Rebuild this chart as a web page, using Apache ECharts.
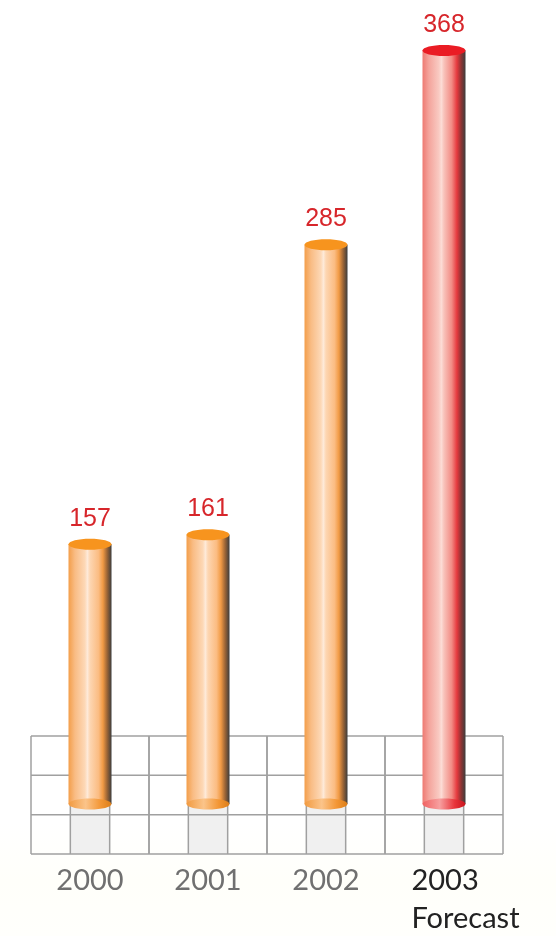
<!DOCTYPE html>
<html>
<head>
<meta charset="utf-8">
<script src="https://cdn.jsdelivr.net/npm/echarts@6/dist/echarts.min.js"></script>
<style>
html, body { margin: 0; padding: 0; background: #fff; }
#e { width: 556px; height: 936px; }
</style>
</head>
<body>
<div id="e"></div>
<script>
const years = ['2000', '2001', '2002', '2003']
const values = [157, 161, 285, 368]
const forecast = [false, false, false, true]
const yMin = 46
const yMax = 381

const myChart = echarts.init(document.getElementById('e'))

function hGrad(stops) {
  return new echarts.graphic.LinearGradient(0, 0, 1, 0, stops.map(c => ({ offset: c[0], color: c[1] })))
}

const bodyOrange = hGrad([[0, '#f39e4a'], [0.15, '#f9bc84'], [0.38, '#fdd8b6'], [0.44, '#feead9'], [0.5, '#fdd6b2'], [0.7, '#fbbc82'], [0.8, '#f19a44'], [0.9, '#9a6436'], [1, '#3c3c3c']])
const bodyRed = hGrad([[0, '#ee7a72'], [0.15, '#f4a49c'], [0.38, '#f9cac2'], [0.44, '#fcdcd6'], [0.5, '#f8c2ba'], [0.68, '#f28b84'], [0.8, '#e63a3e'], [0.9, '#8c3434'], [1, '#3c3c3c']])
const baseOrange = hGrad([[0, '#f19a40'], [0.4, '#fbc48a'], [0.75, '#f39634'], [1, '#dc7e18']])
const baseRed = hGrad([[0, '#f06262'], [0.4, '#f7a0a0'], [0.75, '#e8343a'], [1, '#c8141c']])

function renderFloor(params, api) {
  const p = api.coord([api.value(0), yMin])
  const band = api.size([1, 0])[0]
  const cell = band / 3
  const left = p[0] - band / 2
  const topY = p[1] - 68
  const bottomY = topY + cell * 3
  const children = [{
    type: 'rect',
    shape: { x: left + cell, y: p[1], width: cell, height: bottomY - p[1] },
    style: { fill: '#f0f0f0' }
  }]
  for (let i = 0; i <= 3; i++) {
    children.push({
      type: 'line',
      shape: { x1: left + i * cell, y1: topY, x2: left + i * cell, y2: bottomY },
      style: { stroke: '#a0a0a0', lineWidth: 1.5 }
    })
    children.push({
      type: 'line',
      shape: { x1: left, y1: topY + i * cell, x2: left + band, y2: topY + i * cell },
      style: { stroke: '#a0a0a0', lineWidth: 1.5 }
    })
  }
  return { type: 'group', children: children }
}

function renderCylinder(params, api) {
  const idx = api.value(0)
  const top = api.coord([idx, api.value(1)])
  const base = api.coord([idx, yMin])
  const w = 43
  const ry = 5.5
  const red = forecast[idx]
  return {
    type: 'group',
    children: [
      {
        type: 'rect',
        shape: { x: top[0] - w / 2, y: top[1], width: w, height: base[1] - top[1] },
        style: { fill: red ? bodyRed : bodyOrange }
      },
      {
        type: 'ellipse',
        shape: { cx: base[0], cy: base[1], rx: w / 2, ry: ry },
        style: { fill: red ? baseRed : baseOrange }
      },
      {
        type: 'ellipse',
        shape: { cx: top[0], cy: top[1], rx: w / 2, ry: ry },
        style: { fill: red ? '#ea1c24' : '#f7941e' }
      },
      {
        type: 'text',
        style: {
          x: top[0],
          y: top[1] - 13,
          text: String(api.value(1)),
          fill: '#d7262b',
          font: '25px "Liberation Sans", Arial, sans-serif',
          align: 'center',
          verticalAlign: 'bottom'
        }
      }
    ]
  }
}

const option = {
  animation: false,
  backgroundColor: new echarts.graphic.LinearGradient(0, 0, 0, 1, [
    { offset: 0, color: '#ffffff' },
    { offset: 0.88, color: '#ffffff' },
    { offset: 0.94, color: '#fffffa' },
    { offset: 1, color: '#fffffc' }
  ]),
  grid: { left: 31, right: 53, top: 20, bottom: 132 },
  xAxis: {
    type: 'category',
    data: years,
    axisLine: { show: false },
    axisTick: { show: false },
    axisLabel: {
      margin: 58,
      formatter: function (v, i) {
        return forecast[i] ? '{d|' + v + '}\n{f|Forecast}' : '{n|' + v + '}'
      },
      rich: {
        n: { fontFamily: 'Lato', fontSize: 29, color: '#707070', lineHeight: 38 },
        d: { fontFamily: 'Lato', fontSize: 29, color: '#222222', lineHeight: 38, align: 'left', padding: [0, 0, 0, 43] },
        f: { fontFamily: 'Lato', fontSize: 29, color: '#222222', lineHeight: 38, align: 'left', padding: [0, 0, 0, 43] }
      }
    }
  },
  yAxis: {
    type: 'value',
    min: yMin,
    max: yMax,
    show: false,
    splitLine: { show: false }
  },
  series: [
    {
      type: 'custom',
      z: 1,
      clip: false,
      renderItem: renderFloor,
      data: years.map((y, i) => [i])
    },
    {
      type: 'custom',
      z: 2,
      clip: false,
      renderItem: renderCylinder,
      data: values.map((v, i) => [i, v])
    }
  ]
}
myChart.setOption(option)
</script>
</body>
</html>
